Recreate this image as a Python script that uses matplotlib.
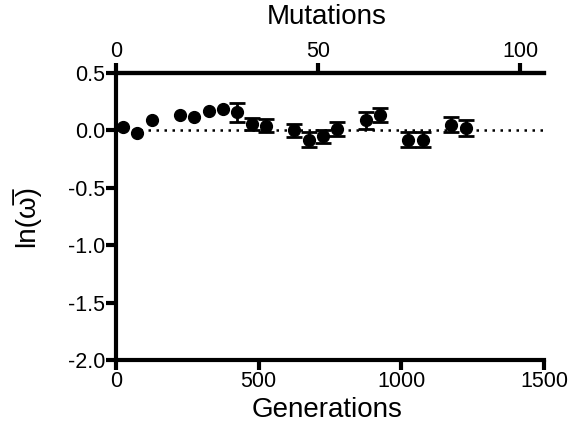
import matplotlib
matplotlib.use("Agg")
import matplotlib.pyplot as plt
import numpy as np

plt.rcParams['font.family'] = ['Liberation Sans', 'DejaVu Sans']

# datos
generaciones = [25, 75, 125, 225, 275, 325, 375, 425, 475, 525,
                625, 675, 725, 775, 875, 925, 1025, 1075, 1175, 1225]
ln_w = [0.026, -0.023, 0.093, 0.137, 0.117, 0.166, 0.186, 0.157, 0.056, 0.041,
        0.0, -0.081, -0.052, 0.015, 0.087, 0.131, -0.081, -0.081, 0.05, 0.021]
error = [np.nan] * 7 + [0.08, 0.054, 0.055, 0.055, 0.064, 0.058, 0.06,
                        0.073, 0.062, 0.064, 0.064, 0.065, 0.072]
gen_por_mutacion = 14.16

xticks_gen = [0, 500, 1000, 1500]
xticks_mut = [0, 50, 100]
yticks = [0.5, 0.0, -0.5, -1.0, -1.5, -2.0]

fig = plt.figure(figsize=(5.71, 4.32), dpi=100)
ax = fig.add_axes([0.2032, 0.1667, 0.7495, 0.6643])

ax.axhline(0, color='black', lw=1.8, ls=(0, (1, 2.2)), zorder=1)
ax.errorbar(generaciones, ln_w, yerr=error, fmt='o', color='black',
            markersize=8.5, elinewidth=2, capsize=6, capthick=2, zorder=3)

ax.set_xlim(0, 1500)
ax.set_ylim(-2.0, 0.5)
ax.set_xticks(xticks_gen)
ax.set_yticks(yticks)
ax.set_yticklabels([f"{v:.1f}" for v in yticks])

for lado in ['left', 'bottom', 'top']:
    ax.spines[lado].set_linewidth(3)
ax.spines['right'].set_visible(False)
ax.tick_params(axis='both', direction='out', length=7, width=3, labelsize=15.5, pad=1)

ax.set_ylabel('ln(\u03c9\u0305)', fontsize=20, labelpad=20)

sec = ax.secondary_xaxis('top', functions=(lambda g: g / gen_por_mutacion,
                                           lambda m: m * gen_por_mutacion))
sec.set_xticks(xticks_mut)
sec.spines['top'].set_linewidth(3)
sec.tick_params(direction='out', length=7, width=3, labelsize=15.5, pad=1)

# titulos de los ejes x colocados a mano
fig.text(0.572, 1 - 17 / 432, 'Mutations', fontsize=20, ha='center', va='center')
fig.text(0.572, 1 - 410 / 432, 'Generations', fontsize=20, ha='center', va='center')

fig.savefig('out.png', dpi=100)
